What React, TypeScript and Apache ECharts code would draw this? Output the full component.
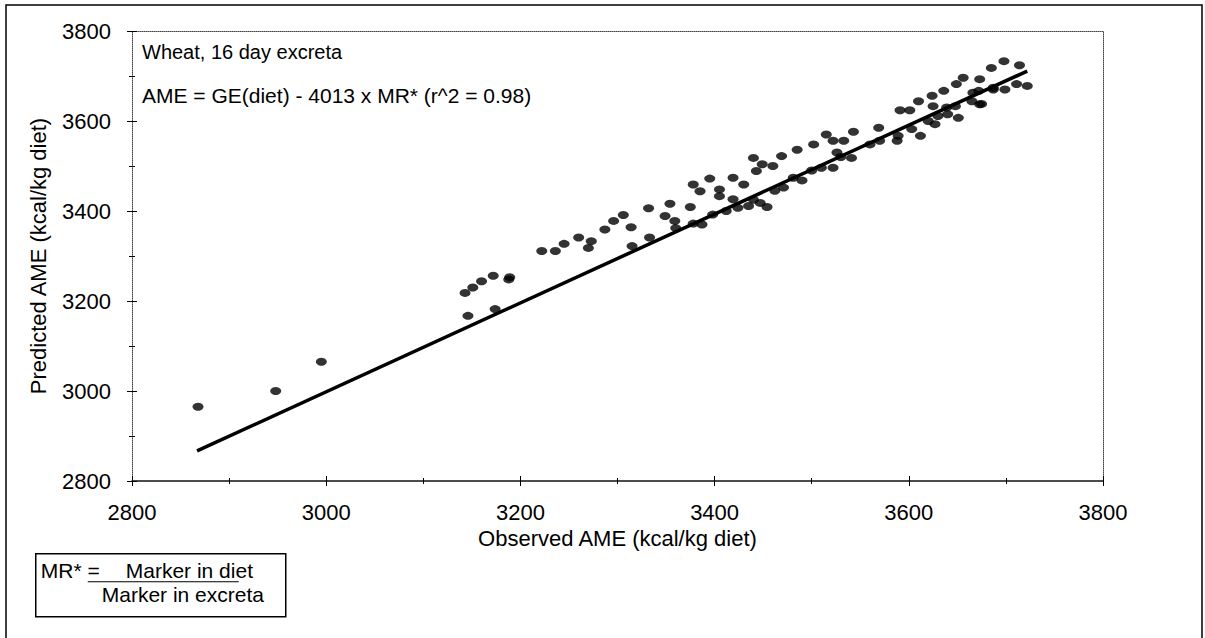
import React, { useEffect, useRef } from "react";
import * as echarts from "echarts";

// Observed AME (kcal/kg diet) for each sample
const observed = [
  2868, 2948, 2995,
  3146, 3174, 3143, 3151, 3160, 3172, 3188, 3189, 3222, 3236, 3245, 3260, 3273, 3270, 3287, 3296, 3306, 3314, 3315,
  3333, 3332, 3354, 3349, 3375, 3359, 3378, 3395, 3385, 3387, 3405, 3405, 3419, 3419, 3424, 3430, 3435, 3440, 3449,
  3443, 3447, 3454, 3460, 3469, 3471, 3481, 3485, 3490, 3502,
  3515, 3522, 3533, 3526, 3541, 3543, 3510, 3522, 3569, 3570, 3589, 3588, 3591, 3601, 3603, 3612, 3610, 3624, 3625,
  3627, 3636, 3630, 3639, 3649, 3656, 3651, 3648, 3665, 3673, 3672, 3673, 3685, 3687,
  3698, 3714, 3666, 3687, 3699, 3711, 3722, 3675,
  3360, 3378, 3398, 3412, 3440, 3462, 3500, 3530, 3560, 3620, 3640,
];

// Predicted AME (kcal/kg diet) = GE(diet) - 4013 x MR*
const predicted = [
  2965, 3000, 3065,
  3167, 3182, 3218, 3230, 3244, 3256, 3248, 3253, 3311, 3311, 3327, 3341, 3333, 3318, 3359, 3378, 3391, 3364, 3322,
  3341, 3406, 3416, 3389, 3409, 3378, 3459, 3472, 3444, 3370, 3448, 3433, 3474, 3426, 3407, 3459, 3411, 3518, 3504,
  3489, 3418, 3409, 3500, 3522, 3452, 3474, 3536, 3468, 3548,
  3570, 3556, 3556, 3530, 3518, 3576, 3496, 3496, 3585, 3556, 3567, 3556, 3624, 3624, 3582, 3567, 3644, 3656, 3633,
  3593, 3667, 3611, 3630, 3682, 3696, 3607, 3633, 3644, 3637, 3667, 3693, 3718, 3674,
  3733, 3724, 3663, 3670, 3670, 3682, 3678, 3638,
  3362, 3372, 3392, 3400, 3425, 3445, 3490, 3520, 3548, 3600, 3615,
];

// Fitted line end points
const lineObserved = [2867, 3722];
const linePredicted = [2867, 3711];

const axisMin = 2800;
const axisMax = 3800;
const axisStep = 200;

const titleText = "Wheat, 16 day excreta";
const equationText = "AME = GE(diet) - 4013 x MR* (r^2 = 0.98)";
const xAxisName = "Observed AME (kcal/kg diet)";
const yAxisName = "Predicted AME (kcal/kg diet)";
const mrLabel = "MR* =";
const mrNumerator = "Marker in diet";
const mrDenominator = "Marker in excreta";

const FONT = "'Liberation Sans', Arial, sans-serif";

export default function App() {
  const ref = useRef<HTMLDivElement>(null);

  useEffect(() => {
    if (!ref.current) return;
    const chart = echarts.init(ref.current, undefined, { renderer: "svg" });

    const scatterData = observed.map((x, i) => [x, predicted[i]]);
    const lineData = lineObserved.map((x, i) => [x, linePredicted[i]]);

    const baseAxis = {
      type: "value" as const,
      min: axisMin,
      max: axisMax,
      interval: axisStep,
      splitLine: { show: false },
    };
    const tickStyle = { color: "#000", width: 1 };

    const option: any = {
      animation: false,
      backgroundColor: "#fff",
      grid: { left: 132, right: 102, top: 31, bottom: 157 },
      xAxis: [
        {
          ...baseAxis,
          position: "bottom",
          name: xAxisName,
          nameLocation: "middle",
          nameGap: 42,
          nameTextStyle: { fontSize: 22, color: "#000", fontFamily: FONT },
          axisLine: { lineStyle: { color: "#111", width: 1.5 } },
          axisTick: { length: 5, lineStyle: tickStyle },
          minorTick: { show: true, splitNumber: 2, length: 3, lineStyle: tickStyle },
          axisLabel: {
            fontSize: 22,
            color: "#000",
            margin: 20,
            fontFamily: FONT,
            formatter: (v: number) => String(v),
          },
        },
        {
          ...baseAxis,
          position: "bottom",
          axisLine: { show: false },
          axisTick: { inside: true, length: 5, lineStyle: tickStyle },
          minorTick: { show: true, splitNumber: 2, length: 3, lineStyle: tickStyle },
          axisLabel: { show: false },
        },
        {
          ...baseAxis,
          position: "top",
          axisLine: { lineStyle: { color: "#444", type: "dotted", width: 1 } },
          axisTick: { show: false },
          axisLabel: { show: false },
        },
      ],
      yAxis: [
        {
          ...baseAxis,
          position: "left",
          name: yAxisName,
          nameLocation: "middle",
          nameGap: 83,
          nameTextStyle: { fontSize: 22, color: "#000", fontFamily: FONT },
          axisLine: { lineStyle: { color: "#444", type: "dotted", width: 1 } },
          axisTick: { length: 5, lineStyle: tickStyle },
          minorTick: { show: true, splitNumber: 2, length: 3, lineStyle: tickStyle },
          axisLabel: {
            fontSize: 22,
            color: "#000",
            margin: 21,
            fontFamily: FONT,
            formatter: (v: number) => String(v),
          },
        },
        {
          ...baseAxis,
          position: "left",
          axisLine: { show: false },
          axisTick: { inside: true, length: 5, lineStyle: tickStyle },
          minorTick: { show: true, splitNumber: 2, length: 3, lineStyle: tickStyle },
          axisLabel: { show: false },
        },
        {
          ...baseAxis,
          position: "right",
          axisLine: { lineStyle: { color: "#444", type: "dotted", width: 1 } },
          axisTick: { show: false },
          axisLabel: { show: false },
        },
      ],
      series: [
        {
          type: "line",
          xAxisIndex: 0,
          yAxisIndex: 0,
          data: lineData,
          symbol: "none",
          lineStyle: { color: "#000", width: 3.5 },
          z: 3,
        },
        {
          type: "scatter",
          xAxisIndex: 0,
          yAxisIndex: 0,
          data: scatterData,
          symbol: "circle",
          symbolSize: [11, 8],
          itemStyle: { color: "#000" },
          z: 4,
        },
      ],
      graphic: [
        {
          type: "rect",
          shape: { x: 6, y: 5, width: 1196, height: 650 },
          style: { fill: "none", stroke: "#000", lineWidth: 1.5 },
          silent: true,
        },
        {
          type: "text",
          left: 142,
          top: 42,
          style: { text: titleText, fontSize: 20, fill: "#000", fontFamily: FONT },
        },
        {
          type: "text",
          left: 142,
          top: 85,
          style: { text: equationText, fontSize: 21, fill: "#000", fontFamily: FONT },
        },
        {
          type: "group",
          left: 35,
          top: 553,
          children: [
            {
              type: "rect",
              shape: { x: 0, y: 0, width: 250, height: 63 },
              style: { fill: "#fff", stroke: "#000", lineWidth: 1.5 },
            },
            {
              type: "text",
              x: 5,
              y: 6,
              style: { text: mrLabel, fontSize: 21, fill: "#000", fontFamily: FONT },
            },
            {
              type: "text",
              x: 90,
              y: 6,
              style: { text: mrNumerator, fontSize: 21, fill: "#000", fontFamily: FONT },
            },
            {
              type: "line",
              shape: { x1: 52, y1: 28, x2: 203, y2: 28 },
              style: { stroke: "#000", lineWidth: 1.2 },
            },
            {
              type: "text",
              x: 66,
              y: 30,
              style: { text: mrDenominator, fontSize: 21, fill: "#000", fontFamily: FONT },
            },
          ],
        },
      ],
    };

    chart.setOption(option);
    return () => chart.dispose();
  }, []);

  return (
    <div
      ref={ref}
      style={{ position: "fixed", left: 0, top: 0, width: 1205, height: 638, background: "#fff" }}
    />
  );
}
